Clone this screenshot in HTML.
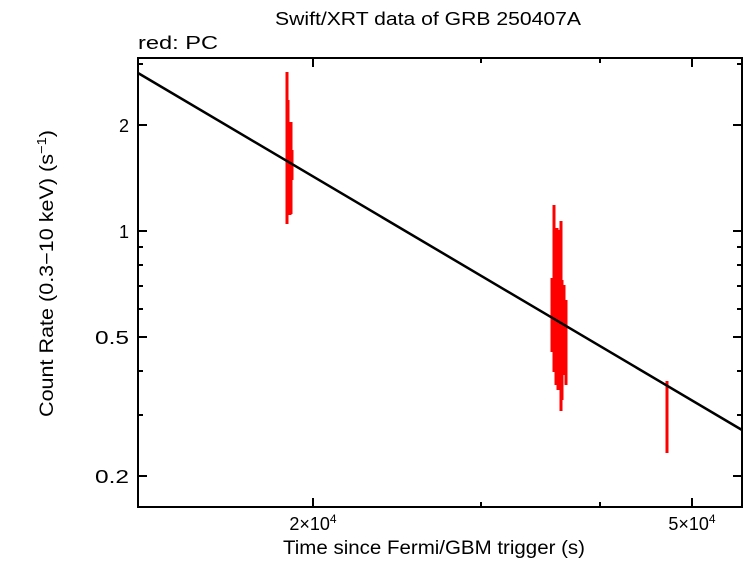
<!DOCTYPE html>
<html><head><style>
body{margin:0;background:#fff;}
svg text{font-family:"Liberation Sans",sans-serif;}
</style></head><body>
<svg width="746" height="558" xmlns="http://www.w3.org/2000/svg">
<rect width="746" height="558" fill="#fff"/>
<text x="275" y="25" font-size="18" textLength="306" lengthAdjust="spacingAndGlyphs">Swift/XRT data of GRB 250407A</text>
<text x="138" y="49" font-size="18" textLength="80" lengthAdjust="spacingAndGlyphs">red: PC</text>
<g stroke="#000" stroke-width="2">
<path d="M138 125h9M742 125h-9M138 231h9M742 231h-9M138 337h9M742 337h-9M138 476h9M742 476h-9"/>
<path d="M138 64h5M742 64h-5M138 247h5M742 247h-5M138 265h5M742 265h-5M138 286h5M742 286h-5M138 309h5M742 309h-5M138 371h5M742 371h-5M138 415h5M742 415h-5"/>
<path d="M313 507v-9M313 58v9M692 507v-9M692 58v9"/>
<path d="M481 507v-5M481 58v5M600 507v-5M600 58v5"/>
</g>
<g stroke="red" stroke-width="3">
<path d="M287 72V224M288 100V200M290 132V215M291 122V214M292 150V180"/>
<path d="M552 278V352M554 205V372M556 246V385M557 228V358M558 250V390M560 230V370M561 221V411M562 280V400M564 285V375M566 300V385"/>
<path d="M667 381V453"/>
</g>
<line x1="138" y1="73" x2="742" y2="430" stroke="#000" stroke-width="2.5"/>
<rect x="138" y="58" width="604" height="449" fill="none" stroke="#000" stroke-width="2"/>
<g font-size="18" text-anchor="end">
<text x="129" y="132">2</text>
<text x="129" y="238">1</text>
<text x="129" y="344" textLength="34" lengthAdjust="spacingAndGlyphs">0.5</text>
<text x="129" y="483" textLength="34" lengthAdjust="spacingAndGlyphs">0.2</text>
</g>
<text x="313" y="530" font-size="18" text-anchor="middle">2×10<tspan font-size="12" dy="-7">4</tspan></text>
<text x="692" y="530" font-size="18" text-anchor="middle">5×10<tspan font-size="12" dy="-7">4</tspan></text>
<text x="283" y="554" font-size="19" textLength="302" lengthAdjust="spacingAndGlyphs">Time since Fermi/GBM trigger (s)</text>
<text transform="translate(53,417) rotate(-90)" font-size="19" textLength="287" lengthAdjust="spacingAndGlyphs">Count Rate (0.3−10 keV) (s<tspan font-size="13" dy="-7">−1</tspan><tspan dy="7">)</tspan></text>
</svg>
</body></html>
